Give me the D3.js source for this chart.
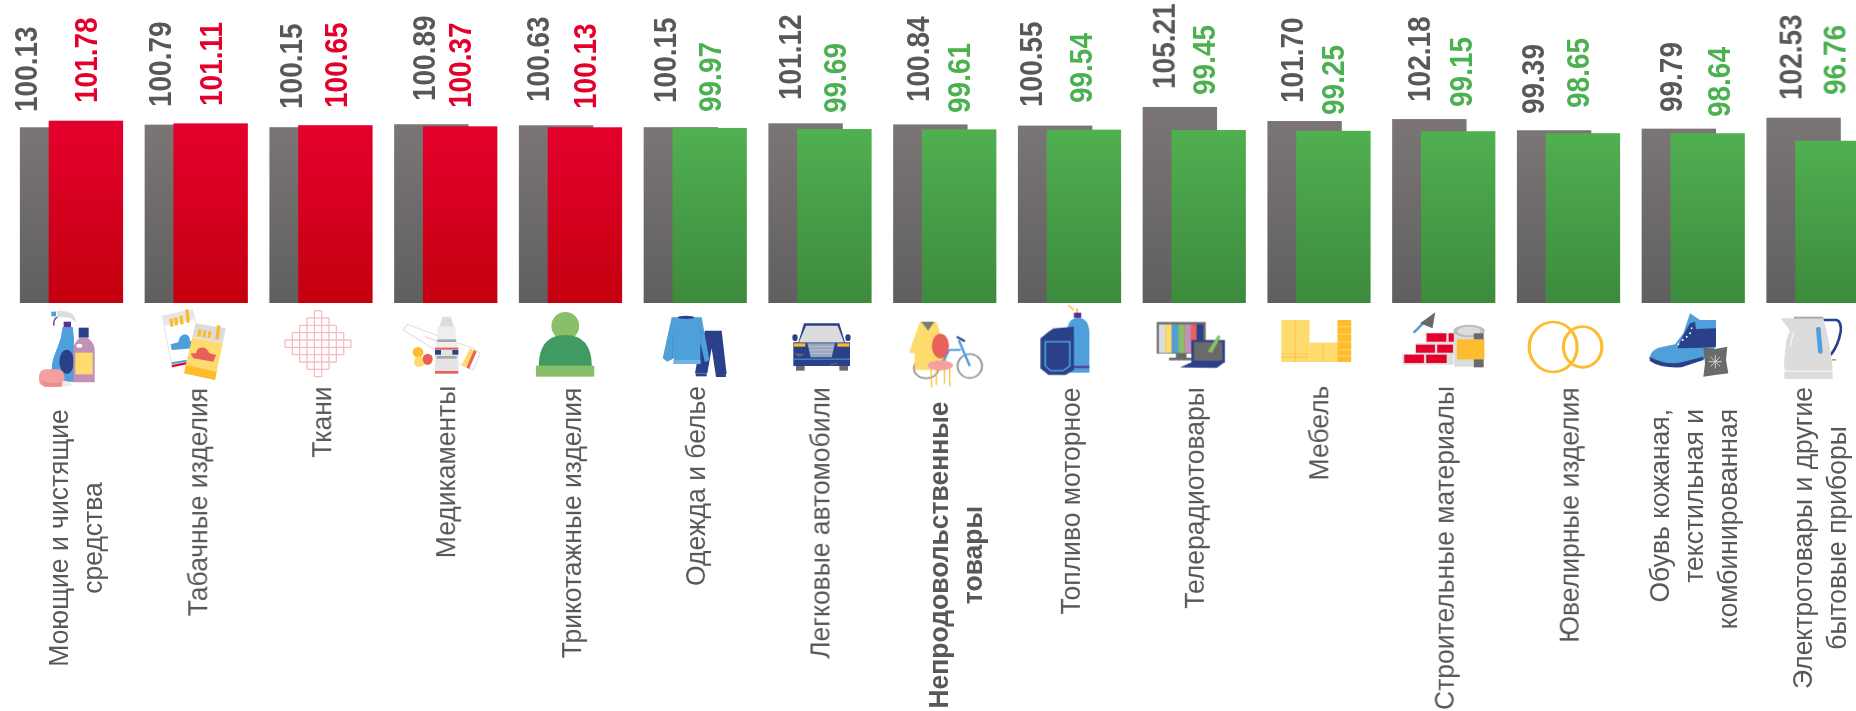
<!DOCTYPE html>
<html><head><meta charset="utf-8">
<script src="https://cdn.jsdelivr.net/npm/d3@7/dist/d3.min.js"></script>
<style>html,body{margin:0;padding:0;background:#fff;overflow:hidden}svg{display:block}text{font-family:"Liberation Sans",Arial,sans-serif}</style>
</head><body><svg id="c" width="1856" height="711"></svg>
<script>
// ---------- data ----------
const categories = ["Моющие и чистящие средства","Табачные изделия","Ткани","Медикаменты","Трикотажные изделия","Одежда и белье","Легковые автомобили","Непродовольственные товары","Топливо моторное","Телерадиотовары","Мебель","Строительные материалы","Ювелирные изделия","Обувь кожаная, текстильная и комбинированная","Электротовары и другие бытовые приборы"];
const previous = [100.13,100.79,100.15,100.89,100.63,100.15,101.12,100.84,100.55,105.21,101.70,102.18,99.39,99.79,102.53];
const current  = [101.78,101.11,100.65,100.37,100.13,99.97,99.69,99.61,99.54,99.45,99.25,99.15,98.65,98.64,96.76];
const categoryLines = [["Моющие и чистящие","средства"],["Табачные изделия"],["Ткани"],["Медикаменты"],["Трикотажные изделия"],["Одежда и белье"],["Легковые автомобили"],["Непродовольственные","товары"],["Топливо моторное"],["Телерадиотовары"],["Мебель"],["Строительные материалы"],["Ювелирные изделия"],["Обувь кожаная,","текстильная и","комбинированная"],["Электротовары и другие","бытовые приборы"]];

// ---------- layout nudges (hand-placed labels in the original) ----------
const prevLabelDx = [6,15.5,21.3,29.6,19.1,21.3,21.5,24.7,12.9,21.1,24.3,26.5,15.7,28.9,24.1];
const prevLabelGap = [15.3,17.6,18.2,23.2,23.3,24.2,23.3,22.4,18.6,18,18,17.1,16.2,16.6,17.7];
const currLabelDx = [66.3,66.1,66.2,65.9,66.1,66.3,66.5,65.7,62.9,61.1,65.8,68.5,60.7,76.9,68.1];
const currLabelGap = [17.7,17.4,17.2,18.3,18.3,15.9,16,16.4,26.6,35,15.8,24.2,25.2,16.2,45.8];
const catLabelDx = [38,52.5,51.7,50.9,52.1,51.3,51,44.7,51.9,51.1,50.8,51.5,51.7,16.9,35.7];
const catLabelY = [538,502,422,472,523,486,523,555,501,498,433,548,515,409,538];

const svg = d3.select("#c");
const defs = svg.append("defs");
function grad(id,a,b){const g=defs.append("linearGradient").attr("id",id).attr("x1",0).attr("y1",0).attr("x2",0).attr("y2",1);
 g.append("stop").attr("offset",0).attr("stop-color",a);g.append("stop").attr("offset",1).attr("stop-color",b);}
grad("gGray","#7b7675","#605e5f");grad("gRed","#e4002c","#c4000f");grad("gGreen","#50b050","#3d8a3d");
defs.append("filter").attr("id","soft").attr("x","-5%").attr("y","-5%").attr("width","110%").attr("height","110%")
 .append("feGaussianBlur").attr("stdDeviation",0.5);

const x = d3.scaleBand().domain(categories).range([19.9,19.9+124.75*15]);
const y = d3.scaleLinear().domain([56.2,106.2]).range([303,103]);
const barW = 74.4, offset = 28.8;

const rows = categories.map((c,i)=>({c,i,p:previous[i],v:current[i]}));
svg.append("g").selectAll("rect").data(rows).join("rect")
 .attr("x",d=>x(d.c)).attr("width",barW).attr("y",d=>y(d.p)).attr("height",d=>y.range()[0]-y(d.p)).attr("fill","url(#gGray)");
svg.append("g").selectAll("rect").data(rows).join("rect")
 .attr("x",d=>x(d.c)+offset).attr("width",barW).attr("y",d=>y(d.v)).attr("height",d=>y.range()[0]-y(d.v))
 .attr("fill",d=>d.v>100?"url(#gRed)":"url(#gGreen)");

const VS=1.12;
svg.append("g").attr("filter","url(#soft)").selectAll("text").data(rows).join("text")
 .attr("transform",d=>`translate(${x(d.c)+prevLabelDx[d.i]},${y(d.p)-prevLabelGap[d.i]}) rotate(-90) scale(1,${VS})`)
 .attr("dy","0.36em").attr("font-size",28).attr("font-weight","bold").attr("fill","#595959").text(d=>d.p.toFixed(2));
svg.append("g").attr("filter","url(#soft)").selectAll("text").data(rows).join("text")
 .attr("transform",d=>`translate(${x(d.c)+currLabelDx[d.i]},${y(d.v)-currLabelGap[d.i]}) rotate(-90) scale(1,${VS})`)
 .attr("dy","0.36em").attr("font-size",28).attr("font-weight","bold").attr("fill",d=>d.v>100?"#e4002b":"#4cb050").text(d=>d.v.toFixed(2));

// category labels
const lineStep=34;
const catG=svg.append("g").attr("filter","url(#soft)").selectAll("g").data(rows).join("g");
catG.selectAll("text").data(d=>categoryLines[d.i].map((t,k)=>({t,k,d}))).join("text")
 .attr("transform",e=>`translate(${x(e.d.c)+catLabelDx[e.d.i]+e.k*lineStep},${catLabelY[e.d.i]}) rotate(-90) scale(1,1.06)`)
 .attr("dy","0.36em").attr("font-size",26.5).attr("text-anchor",e=>e.d.i===13?"end":"middle")
 .attr("font-weight",e=>e.d.i===7?"bold":"normal").attr("fill","#595959").text(e=>e.t);

// ---------- decorative icons ----------
const B="#4f9fdb",N="#2a4189",Y="#fddb6d",O="#fdbb2d",P="#f4a0a0",R="#e8605c",G="#dddcdc",D="#6b6b6b",W="#fff",RD="#e4002b",LG="#8abf6b";
function r(x,y,w,h,f,rx){return `<rect x="${x}" y="${y}" width="${w}" height="${h}" fill="${f}" ${rx?`rx="${rx}"`:""}/>`}
function e(cx,cy,a,b,f){return `<ellipse cx="${cx}" cy="${cy}" rx="${a}" ry="${b}" fill="${f}"/>`}
function p(d,f,s,w){return `<path d="${d}" fill="${f||"none"}" ${s?`stroke="${s}" stroke-width="${w||3}"`:""}/>`}
function ring(cx,cy,a,b,s,w){return `<ellipse cx="${cx}" cy="${cy}" rx="${a}" ry="${b}" fill="none" stroke="${s}" stroke-width="${w}"/>`}
function fabric(){let o="";const cx=144,cy=116,st=22;
 for(let k=0;k<10;k++){const a=k-4.5,h=(5-Math.abs(a))*st,c=cx+a*st,c2=cy+a*st;
  o+=p(`M${c} ${cy-h}V${cy+h}`,null,"#f8bcc0",4)+p(`M${cx-h} ${c2}H${cx+h}`,null,"#f8bcc0",4);}
 return o;}
const crops=[
 [30,305,
  // cleaning
  p("M80 18Q110 15 130 30L140 52L118 38L82 36Z",G)+r(64,20,14,14,B)+p("M82 36Q68 45 72 62",null,"#5b2e91",4)+r(101,50,22,16,"#5b2e91")
  +p("M98 66H128L132 100V230H70Q60 190 70 160Q85 120 92 100Z",B)+e(110,170,22,36,N)+r(146,68,30,30,N)
  +p("M150 98H172Q194 112 194 135V232H130V135Q130 112 150 98Z","#c291b5")+e(148,122,9,6,W)+r(136,143,52,65,Y)
  +r(27,193,76,52,P,20)+p("M30 225Q60 240 100 230L95 245H45Z","#ee8c8c")+e(105,236,9,9,"#fde2e2")+e(118,238,5,6,"#fde2e2"),
  // cigarettes
  p("M397 33L488 14L498 60L470 178L426 187Z",W,"#e6e6e6",3)+p("M397 33L488 14L494 42L404 62Z","#e6e6e6")
  +p("M418 42L428 40L431 64L421 66ZM432 38L442 36L445 60L435 62ZM448 33L458 31L461 57L451 59ZM465 14L476 12L480 52L470 54Z",O)
  +p("M422 118L445 112Q448 90 465 88Q480 90 480 108L498 112L490 130L425 135Z",B)+p("M424 172L470 164L470 170L425 178Z",B)+p("M425 180L470 171L470 178L426 187Z",RD)
  +p("M497 55L587 70L578 115L487 95Z",G)
  +p("M505 72L515 74L512 95L502 93ZM520 76L529 77L526 98L517 96ZM535 78L544 80L541 100L532 98ZM561 60L572 62L566 104L556 102Z",O)
  +p("M487 97L578 115L555 225L462 205Z",Y)+p("M468 180L560 200L555 225L462 205Z",O)
  +p("M482 145L490 160L550 170L558 150L538 145Q530 125 512 128Q500 130 498 145Z",R)],
 [270,305,
  fabric(),
  // medicine
  p("M400 75L412 58L510 95L610 130L630 145L610 195L575 180L480 125Z",W,"#e6e6e6",4)
  +p("M575 180L600 130L620 140L597 192Z",Y)+p("M590 187L612 135L620 140L597 192Z",R)+p("M465 95L505 110",null,"#f2a0a0",2)
  +p("M518 35H542L552 65H508Z","#dcdcdc")+r(502,65,55,42,"#eeeeee")+r(502,103,57,8,"#a8a8a8")+r(497,111,66,14,"#eeeeee")+r(495,125,70,80,"#e4e4e4")
  +r(495,128,70,6,R)+r(495,135,18,14,N)+r(547,135,18,14,N)+r(500,153,60,8,"#a8a8a8")+r(495,198,70,8,R)
  +e(444,142,16,16,O)+e(448,170,16,16,Y)+e(473,163,15,17,R)],
 [650,305,
  // clothes
  p("M165 77H215L230 207L198 215L185 130L172 205H135L150 120Z",N)+r(137,205,33,9,N)+r(198,208,30,8,N)
  +p("M65 37H155L178 165L165 172L150 110V170H72V160L52 170L38 160Z",B)+r(70,165,82,12,"#6fb3e6")+p("M68 90V160M152 70V165",null,"#3d86c0",1.5)+e(108,37,25,5,N),
  // car
  p("M430 112H600V183H430Z",N)+p("M445 112L462 55H568L585 112Z",N)+p("M447 112L468 62H563L582 112Z",G)+e(435,98,8,10,N)+e(594,98,8,10,N)
  +r(432,115,34,10,O)+r(562,115,36,10,O)+p("M472 115H555L545 157H482Z","#9aa5c0")+p("M478 125H550M480 135H548M482 145H546",null,"#ccd2e0",2)
  +r(430,161,170,3,B)+r(438,183,26,14,D)+r(568,183,26,14,D)+p("M433 145L465 148L445 155Z",D)+p("M538 180L562 175",null,D,3)]
 ,[1640,305,
  // boot
  p("M150 25L180 45L228 45V125L190 165L125 180Q70 185 30 160Q28 140 55 128L105 118L130 85Z",B)
  +p("M168 72L228 70V125L190 128L112 130L130 90L150 55L165 50Z",N)+p("M28 155Q80 182 125 172L190 155V165L125 187Q60 190 30 168Z",N)
  +e(155,70,2.5,3,W)+e(150,85,3,3,W)+e(140,95,3,3,W)+e(128,105,3,3,W)+e(115,118,3,3,W)
  +p("M190 127L225 132L262 125L258 165L265 205L225 210L190 215L195 175Z",D)+p("M226 150V190M206 170H246M212 156L240 184M240 156L212 184",null,"#d0d0d0",3),
  // kettle
  p("M548 45H590Q605 50 602 80Q595 120 572 150",null,N,8)+p("M422 40H550Q570 110 578 190Q578 197 570 197H440Q432 195 432 185Q435 100 450 78Z",G)
  +r(462,35,88,6,"#aaaaaa")+`<rect x="531" y="66" width="14" height="80" rx="6" fill="${B}" transform="rotate(-5 538 106)"/>`
  +r(433,200,145,22,G)+r(576,162,12,5,LG)+p("M462 80Q452 105 452 125",null,W,3)]
];
const iconsA = [ // drawn in 2.45x / 3x zoom space, origin x=0
 // hat
 e(1385,978,34,42,LG)+p("M1320 1100Q1320 1005 1385 1005Q1450 1005 1450 1100Z","#429a63")+r(1313,1097,143,33,LG)
];
const iconsB = [ // origin x=620, 2.45x / 3x
 // coat, chair, bike
 ring(750,1105,30,30,"#9a9a9a",5)+ring(857,1098,30,36,"#9a9a9a",5)
 +p("M735 965H775L800 1060V1110H722V1060L708 1058Z",Y)+p("M738 965H770L755 992Z","#7a7a7a")
 +p("M857 1098L830 1020M806 1050H835M786 1098L806 1050",null,B,6)+p("M825 1010L845 1024",null,N,6)
 +e(785,1038,21,37,R)+e(785,1096,31,15,P)+p("M762 1108L764 1162M775 1110V1155M795 1110V1150M808 1105V1160",null,O,3),
 // fuel
 p("M1098 915L1112 930M1120 925V945",null,O,4)+r(1112,938,18,15,"#5b2e91")+p("M1095 1000Q1095 955 1122 952Q1150 955 1150 1000V1118H1095Z",B)+r(1095,1098,55,6,"#5b2e91")
 +p("M1062 985L1112 980V1110L1092 1125H1050L1030 1105V1015L1050 995Z",N)+p("M1042 1025H1102V1098L1085 1112H1055L1042 1098Z",null,B,4),
 // tv
 r(1315,966,120,95,D)+r(1320,973,16,86,G)+r(1336,973,16,86,Y)+r(1352,973,16,86,B)+r(1368,973,16,86,LG)+r(1384,973,15,86,"#c291b5")+r(1399,973,14,86,R)+r(1413,973,16,86,N)
 +r(1362,1061,26,12,D)+r(1345,1073,60,8,D)+r(1400,1020,82,68,N)+r(1406,1026,70,56,D)+p("M1372 1102L1402 1086H1482L1462 1104Z",N)+p("M1440 1055L1465 1005L1472 1010L1450 1058Z",LG)
];
const iconsC = [ // origin x=1240, 2.545x / 3x
 // furniture
 r(105,960,72,126,Y)+r(177,1028,72,58,Y)+r(248,960,35,126,O)+p("M141 960V1086M105 1062H177M105 1072H177M212 1028V1086",null,"#f5c04d",2)+p("M250 980H283M250 1003H283M250 1026H283M250 1049H283M250 1068H283",null,Y,3),
 // building
 p("M442 998L470 965",null,B,7)+p("M458 970L497 937L490 985Z",D)
 +r(413,1062,130,32,G)+r(445,1030,100,32,G)+r(472,998,75,32,G)
 +r(418,1064,50,25,RD)+r(474,1064,52,25,RD)+r(448,1034,48,24,RD)+r(502,1034,40,24,RD)+r(475,1000,50,25,RD)+r(531,1000,13,25,RD)
 +r(545,990,76,110,G)+e(583,993,40,19,"#bdbdbd")+e(583,993,30,13,G)+r(552,1018,70,60,O)+r(595,1000,25,18,D)+r(595,1078,25,24,D),
 // rings
 ring(797,1041,61,75,O,8)+ring(872,1041,49,61,O,8)
];
function iconLayer(list,ox,sx,sy,oy){svg.append("g").attr("filter","url(#soft)").attr("transform",`translate(${ox},${oy||0}) scale(${1/sx},${1/sy})`).selectAll("g").data(list).join("g").html(d=>d);}
crops.forEach(c=>iconLayer(c.slice(2),c[0],3,3,c[1]));
iconLayer(iconsA,0,2.45,3);iconLayer(iconsB,620,2.45,3);iconLayer(iconsC,1240,2.545,3);
</script></body></html>
